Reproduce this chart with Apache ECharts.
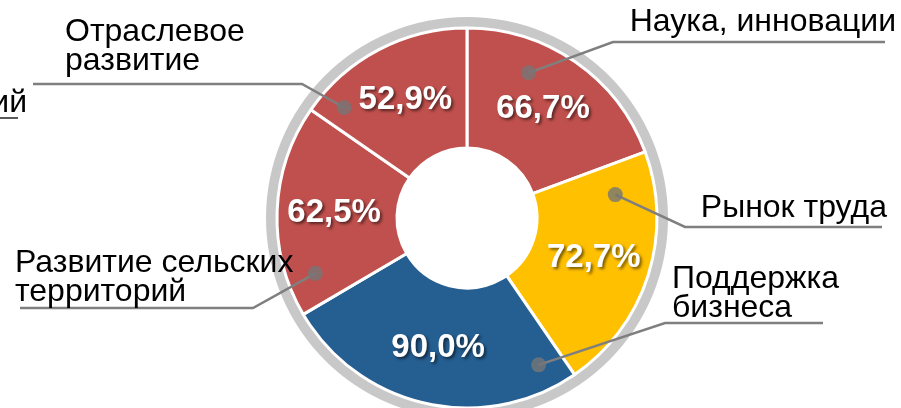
<!DOCTYPE html>
<html>
<head>
<meta charset="utf-8">
<script src="https://cdn.jsdelivr.net/npm/echarts@6/dist/echarts.min.js"></script>
<style>
    html, body { margin: 0; padding: 0; background: #fff; }
    #donut { width: 901px; height: 408px; }
</style>
</head>
<body>
<div id="donut"></div>
<script>
// data
const categories = ['Наука, инновации', 'Рынок труда', 'Поддержка\nбизнеса', 'Развитие сельских\nтерриторий', 'Отраслевое\nразвитие'];
const shares = [66.7, 72.7, 90.0, 62.5, 52.9];
const sliceColors = ['#C0504D', '#FFC000', '#255E91', '#C0504D', '#C0504D'];

// layout
const center = [467, 218];
const outerR = 190;
const font = '"Liberation Sans", Arial, sans-serif';

// where each callout sits: dot = [share of slice from its start, share of radius]
const callouts = [
    { dot: [0.33, 0.83], x: 896, y: 22, align: 'right', elbow: [613, 42], end: [885, 42] },
    { dot: [0.15, 0.79], x: 887, y: 208, align: 'right', elbow: [685, 227], end: [882, 227] },
    { dot: [0.09, 0.86], x: 672, y: 294, align: 'left', elbow: [665, 323], end: [823, 323] },
    { dot: [0.16, 0.85], x: 15, y: 278, align: 'left', elbow: [253, 308], end: [20, 308] },
    { dot: [0.13, 0.87], x: 65, y: 47, align: 'left', elbow: [302, 84], end: [33, 84] }
];

const total = shares.reduce((a, b) => a + b, 0);
let acc = 0;
const dotPoints = shares.map((v, i) => {
    const start = acc / total * 360;
    const span = v / total * 360;
    acc += v;
    return [callouts[i].dot[1], start + callouts[i].dot[0] * span];
});

function dotPixel(i) {
    const r = dotPoints[i][0] * outerR;
    const a = dotPoints[i][1] * Math.PI / 180;
    return [center[0] + r * Math.sin(a), center[1] - r * Math.cos(a)];
}

const chart = echarts.init(document.getElementById('donut'), null, { renderer: 'canvas' });
chart.setOption({
    animation: false,
    backgroundColor: '#fff',
    polar: { center: center, radius: outerR },
    angleAxis: { type: 'value', min: 0, max: 360, startAngle: 90, clockwise: true, show: false },
    radiusAxis: { type: 'value', min: 0, max: 1, show: false },
    graphic: [
        {
            type: 'text', right: 874, top: 87,
            style: { text: 'ий', font: '32px ' + font, fill: '#000' }
        },
        {
            type: 'line', shape: { x1: 0, y1: 118, x2: 18, y2: 118 },
            style: { stroke: '#595959', lineWidth: 2 }
        }
    ],
    series: [
        {
            // grey rim
            type: 'pie',
            center: center,
            radius: [190, 201],
            silent: true,
            label: { show: false },
            itemStyle: { color: '#C8C8C8' },
            data: [{ value: 1 }]
        },
        {
            type: 'pie',
            center: center,
            radius: [70, outerR],
            startAngle: 90,
            clockwise: true,
            silent: true,
            itemStyle: { borderColor: '#fff', borderWidth: 3 },
            label: {
                position: 'inside',
                formatter: p => p.value.toFixed(1).replace('.', ',') + '%',
                color: '#fff',
                fontFamily: font,
                fontWeight: 'bold',
                fontSize: 33,
                textShadowColor: 'rgba(0,0,0,0.55)',
                textShadowBlur: 3,
                textShadowOffsetX: 2,
                textShadowOffsetY: 2
            },
            data: categories.map((c, i) => ({ name: c, value: shares[i], itemStyle: { color: sliceColors[i] } }))
        },
        {
            // callout labels
            type: 'pie',
            center: center,
            radius: [70, outerR],
            startAngle: 90,
            clockwise: true,
            silent: true,
            z: 4,
            avoidLabelOverlap: false,
            itemStyle: { color: 'rgba(0,0,0,0)' },
            label: {
                position: 'outside',
                formatter: '{b}',
                color: '#000',
                fontFamily: font,
                fontSize: 32,
                lineHeight: 29
            },
            labelLine: { show: true, lineStyle: { color: '#7F7F7F', width: 2.5 } },
            labelLayout: p => {
                const c = callouts[p.dataIndex];
                return {
                    x: c.x,
                    y: c.y,
                    align: c.align,
                    verticalAlign: 'middle',
                    labelLinePoints: [dotPixel(p.dataIndex), c.elbow, c.end]
                };
            },
            data: categories.map((c, i) => ({ name: c, value: shares[i] }))
        },
        {
            type: 'scatter',
            coordinateSystem: 'polar',
            silent: true,
            symbolSize: 15,
            itemStyle: { color: '#767676' },
            z: 5,
            data: dotPoints
        }
    ]
});
</script>
</body>
</html>
